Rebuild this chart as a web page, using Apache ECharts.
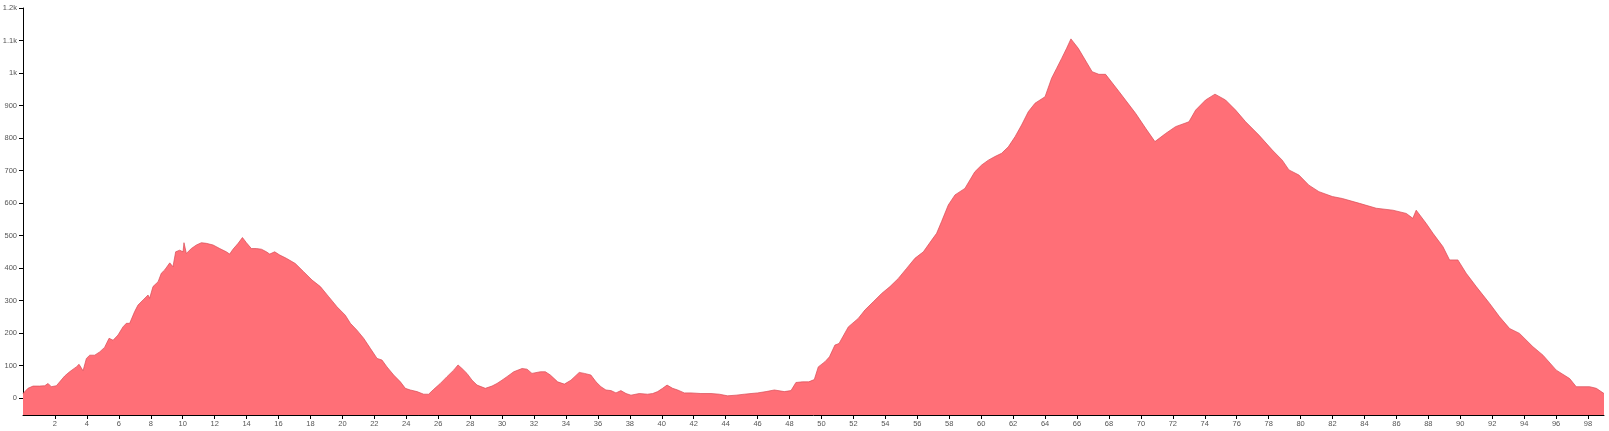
<!DOCTYPE html>
<html>
<head>
<meta charset="utf-8">
<script src="https://cdn.jsdelivr.net/npm/echarts@6/dist/echarts.min.js"></script>
<style>
html,body{margin:0;padding:0;background:#fff;}
#chart{width:1609px;height:431px;}
</style>
</head>
<body>
<div id="chart"></div>
<script>
// distance along route (km)
const distances = [
0,0.31,0.63,1.04,1.36,1.57,1.77,2.09,2.30,2.61,2.92,3.34,3.51,3.76,3.97,4.18,4.49,4.80,5.11,5.39,5.64,5.95,6.26,6.47,6.68,6.99,7.20,7.52,7.83,7.93,8.14,8.46,8.66,8.87,9.19,9.39,9.56,9.81,10.02,10.08,10.23,10.54,10.86,11.17,11.48,11.90,12.32,12.73,12.94,13.15,13.47,13.74,13.99,14.30,14.61,14.93,15.24,15.45,15.76,16.08,16.49,
17.05,17.57,18.10,18.62,19.14,19.66,20.18,20.50,20.91,21.33,21.75,22.17,22.48,22.79,23.21,23.63,23.94,24.25,24.67,25.09,25.40,25.72,26.13,26.55,26.97,27.24,27.49,27.80,28.12,28.43,28.95,29.37,29.68,29.99,30.31,30.73,31.25,31.56,31.87,32.40,32.71,33.02,
33.48,33.90,34.31,34.83,35.15,35.56,35.88,36.19,36.50,36.82,37.13,37.44,37.76,38.07,38.59,39.11,39.43,39.74,40.05,40.33,40.68,40.99,41.41,41.83,42.45,43.08,43.60,44.12,44.65,45.17,45.59,46.00,46.53,47.05,47.67,48.09,48.40,48.80,49.20,49.55,
49.80,50.22,50.50,50.84,51.10,51.68,52.30,52.72,53.24,53.77,54.29,54.81,55.33,55.85,56.38,56.90,57.21,57.52,57.94,58.36,58.98,59.60,60.03,60.45,60.86,61.28,61.70,62.12,62.53,62.95,63.37,64.00,64.41,64.72,65.04,65.35,65.62,66.08,
66.95,67.37,67.79,68.63,69.67,70.30,70.88,71.55,72.17,73.01,73.43,74.05,74.64,75.30,75.93,76.56,77.39,78.23,78.85,79.27,79.90,80.52,81.15,81.99,82.61,
83.69,84.74,85.78,86.62,87.03,87.24,87.87,88.29,88.91,89.33,89.85,90.37,91.00,91.84,92.46,93.09,93.71,94.55,95.18,96.01,96.85,97.26,98.10,98.52,99.00
];
// elevation (m)
const elevations = [
14,30,37,37,38,45,35,38,50,68,81,96,104,84,122,132,132,142,156,184,178,194,219,230,230,266,286,302,317,307,343,358,384,394,416,404,450,455,450,478,445,460,471,478,476,471,460,450,443,458,476,494,478,460,460,458,450,443,450,440,430,
414,389,363,343,312,281,255,230,209,184,153,122,117,96,71,50,30,25,20,12,12,27,45,66,86,102,91,76,55,40,30,37,45,55,66,81,91,89,76,81,81,71,
50,43,55,79,76,71,50,35,25,23,16,23,14,9,14,12,14,20,30,40,30,25,16,16,14,14,12,7,9,12,14,16,20,25,20,23,48,50,50,57,
96,112,127,163,168,219,245,271,296,322,343,368,399,430,450,486,507,543,594,625,645,696,717,732,743,753,773,804,840,881,907,927,984,1014,1045,1076,1105,1076,
1004,996,996,943,876,830,789,814,835,850,886,917,935,917,886,850,809,763,732,702,686,655,635,620,614,
599,584,578,568,553,578,537,507,466,425,425,384,343,291,250,214,199,158,132,86,60,35,35,30,14
];
const yTickValues = [0,100,200,300,400,500,600,700,800,900,1000,1100,1200];
const xTickValues = [2,4,6,8,10,12,14,16,18,20,22,24,26,28,30,32,34,36,38,40,42,44,46,48,50,52,54,56,58,60,62,64,66,68,70,72,74,76,78,80,82,84,86,88,90,92,94,96,98];

const seriesData = distances.map((d, i) => [d, elevations[i]]);
const chart = echarts.init(document.getElementById('chart'), null, {renderer: 'canvas'});
const labelFont = {color: '#555', fontSize: 7.5, fontFamily: 'Liberation Sans, Arial, sans-serif'};
chart.setOption({
  animation: false,
  grid: {left: 23, right: 5, top: 8, bottom: 16, containLabel: false, outerBoundsMode: 'none'},
  xAxis: {
    type: 'value', min: 0, max: 99,
    axisLine: {show: true, onZero: false, lineStyle: {color: '#000', width: 1}},
    axisTick: {show: true, length: 4, customValues: xTickValues, lineStyle: {color: '#000'}},
    axisLabel: Object.assign({margin: 5, customValues: xTickValues}, labelFont),
    splitLine: {show: false}
  },
  yAxis: {
    type: 'value', min: -52, max: 1200,
    axisLine: {show: true, lineStyle: {color: '#000', width: 1}},
    axisTick: {show: true, length: 4, customValues: yTickValues, lineStyle: {color: '#000'}},
    axisLabel: Object.assign({margin: 6, customValues: yTickValues,
      formatter: v => v >= 1000 ? (v / 1000) + 'k' : String(v)}, labelFont),
    splitLine: {show: false}
  },
  series: [{
    type: 'line',
    data: seriesData,
    showSymbol: false,
    smooth: false,
    lineStyle: {color: '#d94a55', width: 0.7},
    areaStyle: {color: '#ff6f77', opacity: 1, origin: 'start'}
  }]
});
</script>
</body>
</html>
